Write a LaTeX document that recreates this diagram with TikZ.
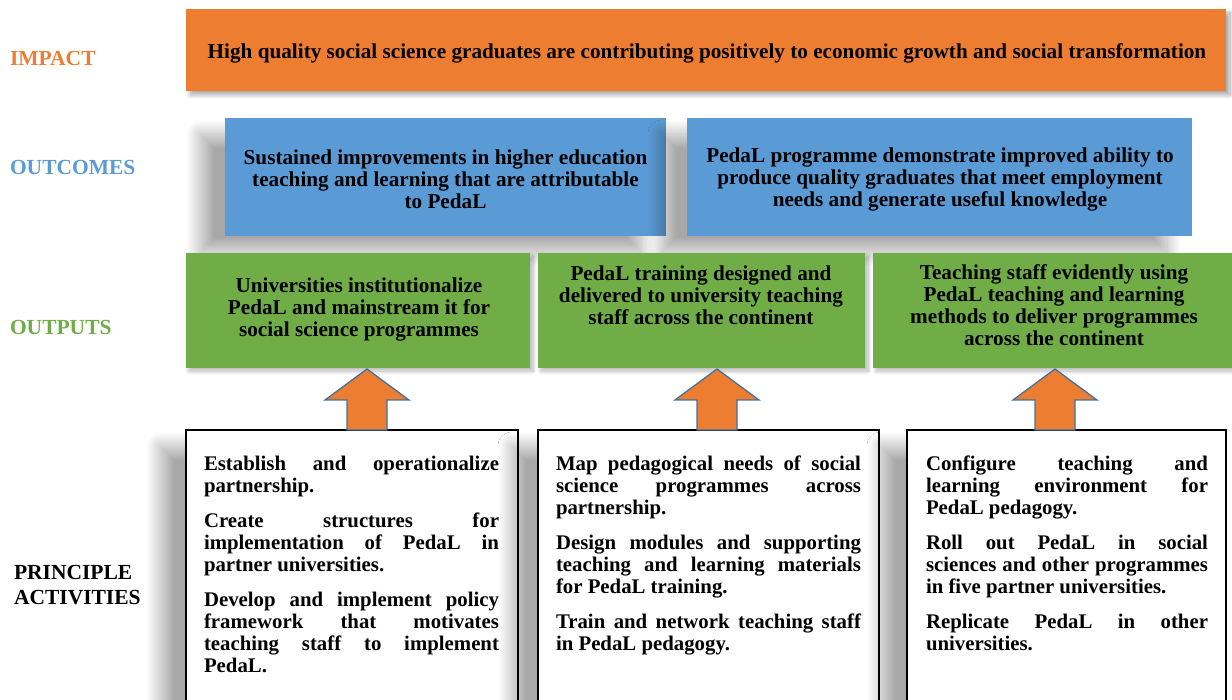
\documentclass[tikz,border=0pt]{standalone}
\usepackage{fontspec}
\setmainfont{Liberation Serif}
\usetikzlibrary{shadows.blur}
\definecolor{cOrange}{HTML}{ED7D31}
\definecolor{cBlue}{HTML}{5B9BD5}
\definecolor{cGreen}{HTML}{70AD47}
\definecolor{cArrow}{HTML}{41719C}
\newcommand\Jl[1]{\hbox to\hsize{#1}}
\newcommand\Ll[1]{\hbox{#1}}
\newcommand\Pgap{\vskip13pt}
\begin{document}
\begin{tikzpicture}[x=1pt,y=-1pt,
  every node/.style={inner sep=0pt, outer sep=0pt},
  txt/.style={font=\bfseries\fontsize{21.2}{22}\selectfont},
  atxt/.style={font=\bfseries\fontsize{20.8}{22}\selectfont},
  lbl/.style={font=\bfseries\fontsize{21.5}{25}\selectfont, anchor=west, align=left},
  impactbox/.style={fill=cOrange, anchor=north west,
    blur shadow={shadow xshift=4pt, shadow yshift=-4pt, shadow blur radius=4pt, shadow opacity=35, shadow blur steps=20}},
  outcomebox/.style={fill=cBlue, anchor=north west,
    blur shadow={shadow xshift=-25pt, shadow yshift=-16pt, shadow blur radius=14pt, shadow opacity=34, shadow blur steps=40}},
  outputbox/.style={fill=cGreen, anchor=north west,
    blur shadow={shadow xshift=3pt, shadow yshift=-3pt, shadow blur radius=4pt, shadow opacity=30, shadow blur steps=20}},
  actbox/.style={fill=white, draw=black, line width=1.6pt, anchor=north west,
    blur shadow={shadow xshift=-26pt, shadow yshift=-16pt, shadow blur radius=14pt, shadow opacity=34, shadow blur steps=40}},
  boxtext/.style={txt, align=center},
  acttext/.style={atxt, anchor=base west},
  uparrow/.pic={\draw[fill=cOrange, draw=cArrow, line width=1.3pt, line join=miter]
     (0,0) -- (42,31) -- (20,31) -- (20,61) -- (-20,61) -- (-20,31) -- (-42,31) -- cycle;}
]
\useasboundingbox (0,0) rectangle (1232,700);
\clip (0,0) rectangle (1232,700);

% row labels
\node[lbl, text=cOrange] (limpact) at (10,58) {IMPACT};
\node[lbl, text=cBlue] (loutcomes) at (10,167) {OUTCOMES};
\node[lbl, text=cGreen] (loutputs) at (10,327) {OUTPUTS};
\node[lbl, text=black] (lact) at (14,585) {PRINCIPLE\\ACTIVITIES};

% impact
\node[impactbox, minimum width=1040pt, minimum height=82pt] (impact) at (186,9) {};
\node[boxtext] (impactt) at (707,53)
  {High quality social science graduates are contributing positively to economic growth and social transformation};

% outcomes
\node[outcomebox, minimum width=441pt, minimum height=118pt] (oc1) at (225,118) {};
\node[outcomebox, minimum width=505pt, minimum height=118pt] (oc2) at (687,118) {};
\node[boxtext] (oc1t) at (445.5,179)
  {Sustained improvements in higher education\\teaching and learning that are attributable\\to PedaL};
\node[boxtext] (oc2t) at (940,179)
  {PedaL programme demonstrate improved ability to\\produce quality graduates that meet employment\\needs and generate useful knowledge};

% outputs
\node[outputbox, minimum width=344pt, minimum height=115pt] (op1) at (186,253) {};
\node[outputbox, minimum width=327pt, minimum height=115pt] (op2) at (538,253) {};
\node[outputbox, minimum width=360pt, minimum height=115pt] (op3) at (873,253) {};
\node[boxtext] (op1t) at (359,309) {Universities institutionalize\\PedaL and mainstream it for\\social science programmes};
\node[boxtext] (op2t) at (701,295) {PedaL training designed and\\delivered to university teaching\\staff across the continent};
\node[boxtext] (op3t) at (1054,305) {Teaching staff evidently using\\PedaL teaching and learning\\methods to deliver programmes\\across the continent};

% activities
\node[actbox, minimum width=332pt, minimum height=300pt] (act1) at (186,430) {};
\node[actbox, minimum width=341pt, minimum height=300pt] (act2) at (538,430) {};
\node[actbox, minimum width=319pt, minimum height=300pt] (act3) at (907,430) {};

\node[acttext] (act1t) at (204,471) {\parbox[t]{295pt}{\baselineskip=22pt
  \Jl{Establish and operationalize}\Ll{partnership.}\Pgap
  \Jl{Create structures for}\Jl{implementation of PedaL in}\Ll{partner universities.}\Pgap
  \Jl{Develop and implement policy}\Jl{framework that motivates}\Jl{teaching staff to implement}\Ll{PedaL.}}};
\node[acttext] (act2t) at (556,471) {\parbox[t]{305pt}{\baselineskip=22pt
  \Jl{Map pedagogical needs of social}\Jl{science programmes across}\Ll{partnership.}\Pgap
  \Jl{Design modules and supporting}\Jl{teaching and learning materials}\Ll{for PedaL training.}\Pgap
  \Jl{Train and network teaching staff}\Ll{in PedaL pedagogy.}}};
\node[acttext] (act3t) at (926,471) {\parbox[t]{282pt}{\baselineskip=22pt
  \Jl{Configure teaching and}\Jl{learning environment for}\Ll{PedaL pedagogy.}\Pgap
  \Jl{Roll out PedaL in social}\Jl{sciences and other programmes}\Ll{in five partner universities.}\Pgap
  \Jl{Replicate PedaL in other}\Ll{universities.}}};

% block arrows from activities up to outputs
\pic at (367,369) {uparrow};
\pic at (717,369) {uparrow};
\pic at (1055,369) {uparrow};
\end{tikzpicture}
\end{document}
